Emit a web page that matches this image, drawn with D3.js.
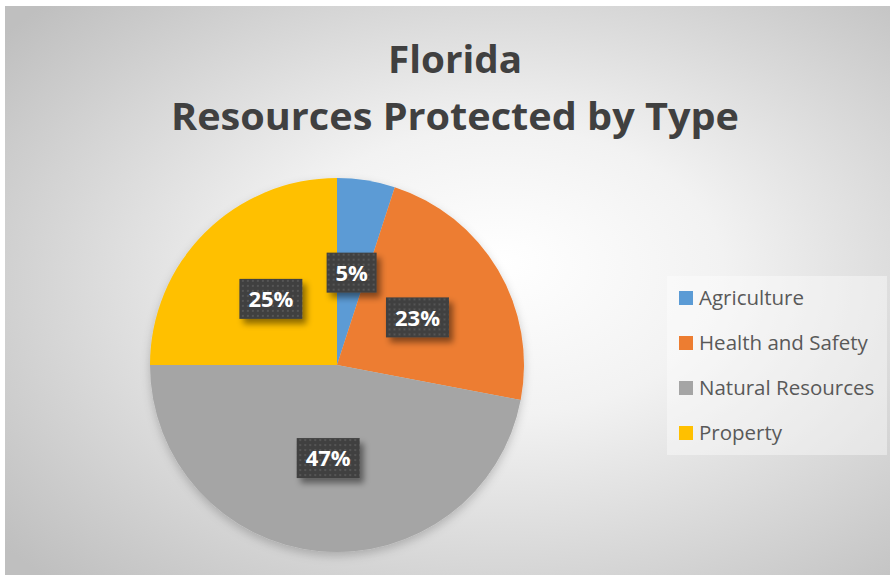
<!DOCTYPE html>
<html>
<head>
<meta charset="utf-8">
<script src="https://cdn.jsdelivr.net/npm/d3@7"></script>
<style>
  body { margin: 0; background: #fff; }
  text { font-family: "Open Sans", "Noto Sans", sans-serif; }
</style>
</head>
<body>
<div id="chart"></div>
<script>
// data
var categories = ["Agriculture", "Health and Safety", "Natural Resources", "Property"]
var shares = [5, 23, 47, 25]
var sliceColors = ["#5b9bd5", "#ed7d31", "#a5a5a5", "#ffc000"]
var titleLines = ["Florida", "Resources Protected by Type"]

var svgWdth = 894
var svgHt = 579

var cx = 337
var cy = 365
var radius = 187

var svg = d3.select("#chart")
    .append("svg")
    .attr("width", svgWdth)
    .attr("height", svgHt)

var defs = svg.append("defs")

// background gradient
var bg = defs.append("radialGradient")
    .attr("id", "bgGrad")
    .attr("cx", "0.56").attr("cy", "0.5").attr("r", "0.72")
    .attr("fx", "0.56").attr("fy", "0.45")
bg.append("stop").attr("offset", "0").attr("stop-color", "#ffffff")
bg.append("stop").attr("offset", "0.35").attr("stop-color", "#f2f2f2")
bg.append("stop").attr("offset", "1").attr("stop-color", "#bfbfbf")

// dotted fill for the labels
var pat = defs.append("pattern")
    .attr("id", "dots")
    .attr("patternUnits", "userSpaceOnUse")
    .attr("width", 5).attr("height", 5)
pat.append("rect").attr("width", 5).attr("height", 5).attr("fill", "#404040")
pat.append("rect").attr("x", 1).attr("y", 1).attr("width", 2).attr("height", 2).attr("fill", "#545454")

var sh = defs.append("filter").attr("id", "boxShadow")
    .attr("x", "-30%").attr("y", "-30%").attr("width", "160%").attr("height", "170%")
sh.append("feDropShadow").attr("dx", 4).attr("dy", 5).attr("stdDeviation", 3)
    .attr("flood-color", "#000").attr("flood-opacity", 0.45)

var pieSh = defs.append("filter").attr("id", "pieShadow")
    .attr("x", "-20%").attr("y", "-20%").attr("width", "140%").attr("height", "140%")
pieSh.append("feDropShadow").attr("dx", 0).attr("dy", 4).attr("stdDeviation", 5)
    .attr("flood-color", "#000").attr("flood-opacity", 0.2)

svg.append("rect")
    .attr("x", 5).attr("y", 6)
    .attr("width", 885).attr("height", 569)
    .attr("fill", "url(#bgGrad)")

// title
svg.append("g").attr("class", "title")
    .selectAll("text")
    .data(titleLines)
    .enter()
    .append("text")
    .attr("x", 455)
    .attr("y", function(d, i) { return 73 + i * 57 })
    .attr("text-anchor", "middle")
    .attr("font-size", 38)
    .attr("font-weight", "bold")
    .attr("fill", "#404040")
    .attr("textLength", function(d, i) { return i == 0 ? 134 : 568 })
    .attr("lengthAdjust", "spacingAndGlyphs")
    .text(function(d) { return d })

// pie
var pie = d3.pie().sort(null).value(function(d) { return d })
var arc = d3.arc().innerRadius(0).outerRadius(radius)
var arcs = pie(shares)

var pieGroup = svg.append("g")
    .attr("transform", `translate(${cx}, ${cy})`)

pieGroup.append("g")
    .attr("filter", "url(#pieShadow)")
    .selectAll("path")
    .data(arcs)
    .enter()
    .append("path")
    .attr("d", arc)
    .attr("fill", function(d, i) { return sliceColors[i] })

// data labels
var labelG = pieGroup.selectAll(".lbl")
    .data(arcs)
    .enter()
    .append("g")
    .attr("class", "lbl")
    .attr("transform", function(d) {
        var c = arc.centroid(d)
        return `translate(${c[0]}, ${c[1]})`
    })

labelG.append("rect")
    .attr("x", function(d) { return d.data < 10 ? -25 : -31.5 })
    .attr("y", -20)
    .attr("width", function(d) { return d.data < 10 ? 50 : 63 })
    .attr("height", 40)
    .attr("fill", "url(#dots)")
    .attr("filter", "url(#boxShadow)")

labelG.append("text")
    .attr("text-anchor", "middle")
    .attr("dy", "0.37em")
    .attr("font-size", 22)
    .attr("font-weight", "bold")
    .attr("fill", "#ffffff")
    .text(function(d) { return d.data + "%" })

// legend
var legend = svg.append("g").attr("class", "legend")

legend.append("rect")
    .attr("x", 667).attr("y", 276)
    .attr("width", 220).attr("height", 179)
    .attr("fill", "#ffffff")
    .attr("fill-opacity", 0.4)

var items = legend.selectAll(".item")
    .data(categories)
    .enter()
    .append("g")
    .attr("class", "item")
    .attr("transform", function(d, i) { return `translate(679, ${291 + i * 45})` })

items.append("rect")
    .attr("width", 14).attr("height", 14)
    .attr("fill", function(d, i) { return sliceColors[i] })

items.append("text")
    .attr("x", 20)
    .attr("y", 13.5)
    .attr("font-size", 20.5)
    .attr("fill", "#595959")
    .text(function(d) { return d })
</script>
</body>
</html>
